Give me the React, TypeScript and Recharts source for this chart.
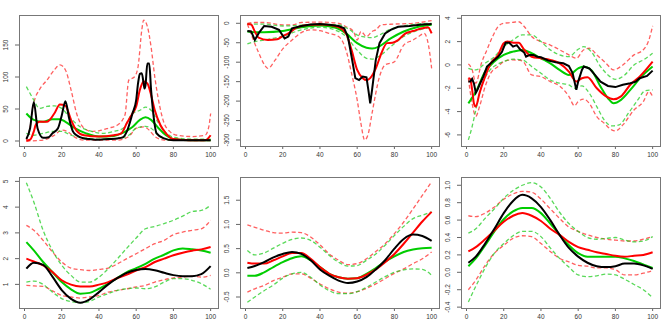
import { LineChart, Line, XAxis, YAxis } from "recharts";

type Pt = [number, number];

const X_TICKS = [0, 20, 40, 60, 80, 100];
const X_GRID = [1, 5, 10, 15, 20, 25, 30, 35, 40, 45, 50, 55, 60, 65, 70, 75, 80, 85, 90, 95, 100];

// panel 1
const P1_BLACK: Pt[] = [[1, 3], [3, 20], [5, 61], [7, 20], [10, 5], [13, 6], [15, 12], [18, 20], [20, 40], [22, 62], [24, 35], [26, 15], [28, 9], [32, 4], [35, 3], [40, 2], [45, 3], [50, 4], [53, 6], [55, 15], [58, 43], [60, 64], [61, 90], [62, 105], [63, 106], [64, 90], [64.5, 82], [65, 87], [66, 121], [67, 121], [68, 80], [69, 48], [71, 12], [75, 4], [80, 1], [90, 1], [100, 1]];
const P1_RED: Pt[] = [[1, 0.5], [3, 2], [5, 15], [6, 25], [8, 30], [12, 30], [16, 43], [19, 57], [22, 55], [25, 33], [28, 16], [32, 9], [40, 7], [48, 9], [52, 12], [55, 28], [58, 43], [60, 54], [62, 80], [64, 93], [66, 90], [68, 72], [70, 48], [73, 25], [76, 12], [80, 3], [90, 1], [97, 1], [100, 9]];
const P1_RED_UP: Pt[] = [[1, 1.5], [3, 22], [5, 59], [8, 80], [12, 95], [16, 111], [19, 119], [22, 111], [25, 80], [28, 43], [32, 20], [36, 15], [40, 16], [45, 20], [50, 25], [54, 41], [56, 95], [59, 100], [61, 116], [63, 173], [64, 189], [66, 179], [68, 147], [70, 100], [72, 64], [75, 28], [78, 15], [82, 9], [90, 7], [97, 9], [99, 22], [100, 43]];
const P1_RED_LO: Pt[] = [[1, 0], [10, 1.5], [16, 9], [20, 17], [23, 15], [27, 6], [32, 1.5], [50, 1.5], [56, 7], [60, 20], [64, 22], [67, 17], [70, 7], [75, 1.5], [100, 0.5]];
const P1_GREEN: Pt[] = [[1, 43], [5, 33], [10, 30], [15, 34], [19, 34], [22, 30], [27, 20], [33, 12], [40, 7], [48, 8], [53, 13], [58, 22], [62, 33], [65, 37], [68, 33], [72, 20], [76, 9], [80, 3], [90, 1], [100, 1]];
const P1_GREEN_UP: Pt[] = [[1, 85], [5, 64], [8, 51], [12, 54], [16, 55], [20, 51], [24, 38], [30, 22], [36, 15], [42, 12], [48, 15], [53, 20], [58, 43], [62, 48], [65, 53], [68, 48], [72, 28], [76, 13], [80, 6], [90, 3], [100, 3]];
const P1_GREEN_LO: Pt[] = [[1, 12], [5, 9], [10, 12], [15, 15], [20, 15], [25, 9], [30, 6], [40, 3], [50, 4], [56, 9], [60, 20], [65, 23], [68, 20], [72, 9], [78, 1.5], [100, 1]];

// panel 2
const P2_BLACK: Pt[] = [[1, -20], [3, -21], [5, -43], [7, -26], [10, -7], [14, -9], [18, -17], [21, -39], [23, -34], [25, -13], [30, -7], [35, -3], [40, -2], [45, -4], [50, -7], [53, -13], [55, -34], [57, -86], [59, -141], [61, -146], [63, -137], [65, -139], [66, -171], [67, -206], [68, -171], [70, -94], [72, -51], [75, -26], [78, -17], [82, -9], [88, -7], [95, -3], [100, -2]];
const P2_RED: Pt[] = [[1, -2], [3, -3], [5, -21], [7, -37], [12, -43], [17, -41], [20, -33], [23, -26], [28, -10], [35, -4], [42, -3], [50, -10], [54, -26], [57, -69], [60, -120], [63, -141], [65, -146], [67, -141], [70, -116], [73, -77], [76, -51], [79, -50], [82, -43], [86, -26], [90, -20], [95, -13], [98, -10], [100, -26]];
const P2_RED_UP: Pt[] = [[1, 0], [5, 2], [10, 2], [20, -4], [25, -4], [30, 2], [40, 3], [50, 0], [54, -9], [58, -21], [60, -43], [62, -21], [65, -34], [68, -21], [70, -17], [73, -4], [80, -2], [90, 0], [100, 7]];
const P2_RED_LO: Pt[] = [[1, -2], [4, -40], [7, -75], [10, -105], [12, -116], [16, -94], [20, -66], [25, -43], [30, -24], [35, -17], [40, -19], [45, -26], [50, -34], [54, -69], [57, -129], [60, -197], [62, -257], [64, -300], [66, -283], [68, -231], [72, -137], [75, -107], [80, -99], [85, -56], [90, -43], [93, -34], [96, -26], [99, -77], [100, -116]];
const P2_GREEN: Pt[] = [[1, -21], [5, -23], [10, -23], [20, -20], [30, -10], [40, -6], [48, -11], [54, -26], [60, -51], [65, -63], [68, -65], [72, -59], [78, -39], [85, -21], [92, -10], [100, -4]];
const P2_GREEN_UP: Pt[] = [[1, -2], [10, -2], [20, -7], [30, -5], [40, -3], [50, -4], [56, -17], [60, -30], [65, -36], [68, -37], [72, -30], [78, -15], [85, -7], [92, -2], [100, 0]];
const P2_GREEN_LO: Pt[] = [[1, -53], [5, -47], [10, -43], [20, -33], [30, -17], [40, -10], [48, -17], [54, -34], [60, -69], [65, -90], [68, -92], [72, -84], [78, -60], [85, -34], [92, -19], [100, -10]];

// panel 3
const P3_BLACK: Pt[] = [[1, -1.43], [2, -1.43], [3, -1.2], [4, -1.6], [5, -2.4], [6, -2.1], [7, -1.7], [9, -1.0], [11, -0.14], [13, 0.14], [15, 0.43], [17, 0.7], [19, 1.1], [21, 1.9], [23, 1.9], [25, 1.57], [27, 1.7], [29, 1.3], [31, 1.06], [32, 0.7], [34, 0.86], [36, 0.86], [38, 0.7], [40, 0.66], [44, 0.37], [48, 0.23], [52, 0.14], [55, -0.09], [57, -0.7], [59, -2.14], [60, -1.43], [62, -0.43], [63, -0.14], [66, -0.3], [69, -0.86], [72, -1.43], [76, -1.8], [80, -1.9], [84, -1.7], [88, -1.57], [91, -1.43], [93, -1.14], [97, -0.94], [100, -0.49]];
const P3_RED: Pt[] = [[1, -1.14], [2, -1.2], [3, -2.1], [4, -3.3], [5, -3.57], [7, -2.4], [10, -1.0], [13, 0.14], [17, 0.86], [20, 1.86], [22, 2.0], [26, 1.9], [28, 1.9], [31, 1.3], [35, 0.7], [40, 0.57], [45, 0.43], [50, 0.14], [55, -0.57], [59, -1.43], [62, -1.14], [65, -1.06], [70, -2.0], [75, -2.7], [79, -2.94], [83, -2.7], [88, -1.7], [93, -1.0], [100, 0.29]];
const P3_RED_UP: Pt[] = [[1, 0.09], [3, -0.4], [5, -1.57], [8, 0.14], [11, 1.3], [14, 2.43], [17, 3.3], [20, 3.57], [24, 3.63], [28, 3.7], [31, 3.3], [35, 2.43], [40, 2.0], [45, 1.7], [50, 1.3], [55, 0.86], [59, 0.57], [63, 1.3], [66, 1.43], [70, 0.86], [75, 0.14], [79, -0.43], [84, 0], [90, 0.86], [95, 1.3], [98, 2.14], [100, 3.34]];
const P3_RED_LO: Pt[] = [[1, -1.14], [3, -3.3], [5, -4.4], [7, -3.57], [10, -1.86], [13, -0.7], [17, -0.14], [20, 0.29], [25, 0.43], [30, 0.34], [35, -0.86], [40, -1.0], [45, -1.43], [50, -1.8], [55, -2.7], [58, -3.5], [60, -3.14], [63, -2.94], [66, -3.3], [70, -4.43], [74, -5.0], [78, -5.57], [80, -5.66], [84, -5.14], [90, -3.86], [95, -3.14], [98, -2.29], [100, -2.71]];
const P3_GREEN: Pt[] = [[1, -3.29], [5, -2.3], [10, -0.57], [15, 0.29], [20, 0.86], [25, 1.14], [30, 1.29], [35, 1.0], [40, 0.57], [45, 0.14], [50, -0.43], [55, -0.86], [60, -0.29], [63, -0.14], [67, -0.43], [72, -1.86], [76, -2.86], [79, -3.29], [83, -3.0], [88, -2.14], [94, -1.0], [100, -0.14]];
const P3_GREEN_UP: Pt[] = [[1, -0.29], [5, -0.43], [10, 0.14], [15, 0.71], [20, 1.57], [25, 2.14], [30, 2.57], [35, 2.57], [40, 2.0], [45, 1.29], [50, 0.86], [55, 0.71], [60, 1.34], [63, 1.57], [67, 1.14], [72, -0.14], [76, -0.86], [80, -1.23], [85, -0.86], [90, 0], [95, 0.43], [100, 1.0]];
const P3_GREEN_LO: Pt[] = [[1, -6.43], [3, -5.3], [5, -3.86], [8, -1.86], [12, -0.57], [16, 0], [20, 0.29], [25, 0.49], [30, 0.43], [35, -0.14], [40, -0.71], [45, -1.29], [50, -1.57], [55, -1.71], [58, -2.0], [62, -1.8], [66, -2.43], [70, -3.57], [74, -4.71], [78, -5.23], [82, -5.14], [87, -4.14], [92, -3.0], [96, -2.2], [100, -2.14]];

// panel 4 (values at X_GRID)
const P4_BLACK = [1.61, 1.84, 1.76, 1.30, 0.78, 0.44, 0.29, 0.42, 0.70, 1.0, 1.25, 1.45, 1.56, 1.60, 1.55, 1.45, 1.36, 1.32, 1.32, 1.40, 1.71];
const P4_RED = [2.0, 1.89, 1.74, 1.48, 1.16, 0.99, 0.92, 0.92, 0.99, 1.09, 1.25, 1.38, 1.54, 1.67, 1.87, 2.0, 2.13, 2.23, 2.31, 2.36, 2.45];
const P4_RED_UP = [3.29, 3.1, 2.71, 2.26, 1.87, 1.63, 1.57, 1.54, 1.58, 1.63, 1.8, 2.0, 2.19, 2.39, 2.58, 2.71, 2.93, 3.03, 3.1, 3.16, 3.49];
const P4_RED_LO = [0.96, 0.94, 0.92, 0.75, 0.57, 0.51, 0.47, 0.51, 0.57, 0.70, 0.77, 0.83, 0.90, 0.96, 1.09, 1.18, 1.25, 1.28, 1.32, 1.28, 1.35];
const P4_GREEN = [2.64, 2.32, 1.87, 1.48, 1.09, 0.81, 0.64, 0.67, 0.83, 1.03, 1.25, 1.48, 1.63, 1.8, 2.0, 2.15, 2.32, 2.39, 2.36, 2.32, 2.23];
const P4_GREEN_UP = [4.95, 4.2, 3.1, 2.32, 1.74, 1.35, 1.09, 1.09, 1.28, 1.61, 2.0, 2.41, 2.8, 3.16, 3.25, 3.36, 3.49, 3.65, 3.83, 3.87, 4.07];
const P4_GREEN_LO = [1.09, 1.13, 1.0, 0.70, 0.45, 0.33, 0.29, 0.34, 0.51, 0.64, 0.77, 0.83, 0.86, 0.83, 0.90, 1.09, 1.22, 1.22, 1.16, 1.03, 0.81];

// panel 5
const P5_BLACK = [0.10, 0.14, 0.22, 0.32, 0.39, 0.43, 0.39, 0.26, 0.07, -0.06, -0.16, -0.21, -0.18, -0.09, 0.07, 0.26, 0.50, 0.70, 0.79, 0.76, 0.66];
const P5_RED = [0.21, 0.19, 0.19, 0.26, 0.34, 0.41, 0.41, 0.29, 0.12, -0.02, -0.09, -0.12, -0.11, -0.04, 0.07, 0.22, 0.39, 0.60, 0.83, 1.06, 1.26];
const P5_RED_UP = [0.99, 0.94, 0.88, 0.83, 0.82, 0.84, 0.83, 0.74, 0.58, 0.39, 0.26, 0.17, 0.19, 0.29, 0.44, 0.60, 0.81, 1.05, 1.32, 1.60, 1.88];
const P5_RED_LO = [-0.40, -0.33, -0.26, -0.16, -0.09, -0.02, -0.02, -0.11, -0.23, -0.33, -0.40, -0.42, -0.39, -0.32, -0.23, -0.12, -0.01, 0.08, 0.19, 0.29, 0.43];
const P5_GREEN = [-0.06, -0.06, 0.01, 0.12, 0.22, 0.30, 0.34, 0.26, 0.12, -0.02, -0.09, -0.12, -0.11, -0.02, 0.10, 0.23, 0.34, 0.43, 0.48, 0.51, 0.52];
const P5_GREEN_UP = [0.46, 0.37, 0.41, 0.51, 0.61, 0.69, 0.72, 0.67, 0.53, 0.36, 0.22, 0.14, 0.15, 0.26, 0.39, 0.57, 0.77, 0.96, 1.12, 1.19, 1.26];
const P5_GREEN_LO = [-0.61, -0.50, -0.37, -0.25, -0.11, -0.02, 0.01, -0.09, -0.25, -0.37, -0.43, -0.43, -0.39, -0.30, -0.19, -0.08, 0.01, 0.06, 0.08, 0.07, -0.05];

// panel 6
const P6_BLACK = [0.11, 0.18, 0.33, 0.50, 0.68, 0.82, 0.89, 0.85, 0.75, 0.60, 0.43, 0.28, 0.18, 0.11, 0.07, 0.06, 0.07, 0.10, 0.10, 0.08, 0.04];
const P6_RED = [0.24, 0.29, 0.38, 0.48, 0.58, 0.65, 0.68, 0.65, 0.59, 0.50, 0.43, 0.35, 0.29, 0.26, 0.23, 0.21, 0.19, 0.18, 0.19, 0.20, 0.23];
const P6_RED_UP = [0.65, 0.64, 0.68, 0.75, 0.84, 0.90, 0.93, 0.92, 0.84, 0.73, 0.62, 0.52, 0.47, 0.43, 0.40, 0.38, 0.37, 0.36, 0.36, 0.38, 0.41];
const P6_RED_LO = [-0.20, -0.09, 0.08, 0.22, 0.31, 0.39, 0.42, 0.41, 0.33, 0.24, 0.16, 0.12, 0.08, 0.07, 0.05, 0.05, 0.03, -0.03, -0.03, -0.01, 0.02];
const P6_GREEN = [0.07, 0.16, 0.31, 0.47, 0.61, 0.70, 0.74, 0.74, 0.68, 0.56, 0.43, 0.31, 0.22, 0.18, 0.18, 0.18, 0.18, 0.16, 0.13, 0.09, 0.05];
const P6_GREEN_UP = [0.45, 0.50, 0.62, 0.73, 0.85, 0.94, 1.00, 1.03, 0.98, 0.85, 0.69, 0.56, 0.47, 0.40, 0.38, 0.39, 0.40, 0.37, 0.35, 0.36, 0.41];
const P6_GREEN_LO = [-0.34, -0.16, 0.05, 0.22, 0.33, 0.42, 0.47, 0.47, 0.41, 0.28, 0.16, 0.06, -0.03, -0.05, -0.04, -0.02, -0.03, -0.08, -0.14, -0.20, -0.29];

const FONT = "'Liberation Sans', Arial, Helvetica, sans-serif";
const BOX_LEFT = 19;
const BOX_RIGHT = 218;
const BOX_TOP = 15;
const PANEL_H = 162;
const X_DOMAIN: [number, number] = [-2.96, 103.96];

type Kind = "black" | "red" | "green" | "redBand" | "greenBand";
type Row = { x: number; y: number };
type Series = { kind: Kind; rows: Row[] };

const STYLE: Record<Kind, { stroke: string; width: number; dash?: string; opacity: number }> = {
    redBand: { stroke: "#FF2a2a", width: 1.3, dash: "4 2.5", opacity: 0.75 },
    greenBand: { stroke: "#22CC22", width: 1.3, dash: "4 2.5", opacity: 0.75 },
    green: { stroke: "#00CD00", width: 2, opacity: 1 },
    red: { stroke: "#FF0000", width: 2, opacity: 1 },
    black: { stroke: "#000000", width: 2, opacity: 1 },
};

const pts = (p: Pt[]): Row[] => p.map(([x, y]) => ({ x, y }));
const grid = (ys: number[]): Row[] => ys.map((y, i) => ({ x: X_GRID[i], y }));

const XTick = (props: any) => {
    const { x, y, payload } = props;
    return (
        <text x={x} y={y + 6} textAnchor="middle" fontSize={6.5} fill="#333" fontFamily={FONT}>
            {payload.value}
        </text>
    );
};

const makeYTick = (fmt: (v: number) => string) => (props: any) => {
    const { x, y, payload } = props;
    const bx = x - 4.5;
    return (
        <text x={bx} y={y} textAnchor="middle" fontSize={6.5} fill="#333" fontFamily={FONT} transform={`rotate(-90 ${bx} ${y})`}>
            {fmt(payload.value)}
        </text>
    );
};

interface PanelProps {
    left: number;
    top: number;
    width: number;
    yDomain: [number, number];
    yTicks: number[];
    fmt: (v: number) => string;
    series: Series[];
    jagged?: boolean;
}

function Panel({ left, top, width, yDomain, yTicks, fmt, series, jagged }: PanelProps) {
    return (
        <div style={{ position: "absolute", left, top, width, height: PANEL_H }}>
            <LineChart width={width} height={PANEL_H} margin={{ top: BOX_TOP, right: width - BOX_RIGHT, bottom: 0, left: 0 }}>
                <XAxis
                    dataKey="x"
                    type="number"
                    domain={X_DOMAIN}
                    ticks={X_TICKS}
                    allowDataOverflow
                    height={16}
                    axisLine={false}
                    tickSize={3}
                    tickLine={{ stroke: "#666" }}
                    tick={<XTick />}
                    interval={0}
                />
                <YAxis
                    type="number"
                    domain={yDomain}
                    ticks={yTicks}
                    allowDataOverflow
                    width={BOX_LEFT}
                    axisLine={false}
                    tickSize={4}
                    tickLine={{ stroke: "#666" }}
                    tick={makeYTick(fmt)}
                    interval={0}
                />
                {series.map((s, i) => {
                    const st = STYLE[s.kind];
                    return (
                        <Line
                            key={`${s.kind}-${i}`}
                            data={s.rows}
                            dataKey="y"
                            type={jagged && s.kind === "black" ? "linear" : "monotone"}
                            stroke={st.stroke}
                            strokeWidth={st.width}
                            strokeDasharray={st.dash}
                            strokeOpacity={st.opacity}
                            dot={false}
                            activeDot={false}
                            isAnimationActive={false}
                        />
                    );
                })}
            </LineChart>
            <div
                style={{
                    position: "absolute",
                    left: BOX_LEFT,
                    top: BOX_TOP,
                    width: BOX_RIGHT - BOX_LEFT + 1,
                    height: 132,
                    border: "1px solid #777",
                    boxSizing: "border-box",
                    pointerEvents: "none",
                }}
            />
        </div>
    );
}

const intFmt = (v: number) => String(v);
const dec1 = (v: number) => v.toFixed(1);

const band = (rUp: Row[], rLo: Row[], gUp: Row[], gLo: Row[], g: Row[], r: Row[], b: Row[]): Series[] => [
    { kind: "redBand", rows: rUp },
    { kind: "redBand", rows: rLo },
    { kind: "greenBand", rows: gUp },
    { kind: "greenBand", rows: gLo },
    { kind: "green", rows: g },
    { kind: "red", rows: r },
    { kind: "black", rows: b },
];

export default function App() {
    return (
        <div style={{ position: "absolute", left: 0, top: 0, width: 664, height: 324, background: "#fff" }}>
            <Panel
                left={0} top={0} width={221}
                yDomain={[-7.8, 196.9]} yTicks={[0, 50, 100, 150]} fmt={intFmt}
                series={band(pts(P1_RED_UP), pts(P1_RED_LO), pts(P1_GREEN_UP), pts(P1_GREEN_LO), pts(P1_GREEN), pts(P1_RED), pts(P1_BLACK))}
            />
            <Panel
                left={221} top={0} width={221}
                yDomain={[-315.4, 21.3]} yTicks={[-300, -250, -200, -150, -100, -50, 0]} fmt={intFmt}
                series={band(pts(P2_RED_UP), pts(P2_RED_LO), pts(P2_GREEN_UP), pts(P2_GREEN_LO), pts(P2_GREEN), pts(P2_RED), pts(P2_BLACK))}
                jagged
            />
            <Panel
                left={442} top={0} width={222}
                yDomain={[-6.95, 4.28]} yTicks={[-6, -4, -2, 0, 2, 4]} fmt={intFmt}
                series={band(pts(P3_RED_UP), pts(P3_RED_LO), pts(P3_GREEN_UP), pts(P3_GREEN_LO), pts(P3_GREEN), pts(P3_RED), pts(P3_BLACK))}
                jagged
            />
            <Panel
                left={0} top={162} width={221}
                yDomain={[0.083, 5.17]} yTicks={[1, 2, 3, 4, 5]} fmt={intFmt}
                series={band(grid(P4_RED_UP), grid(P4_RED_LO), grid(P4_GREEN_UP), grid(P4_GREEN_LO), grid(P4_GREEN), grid(P4_RED), grid(P4_BLACK))}
            />
            <Panel
                left={221} top={162} width={221}
                yDomain={[-0.727, 1.98]} yTicks={[-0.5, 0, 0.5, 1, 1.5]} fmt={dec1}
                series={band(grid(P5_RED_UP), grid(P5_RED_LO), grid(P5_GREEN_UP), grid(P5_GREEN_LO), grid(P5_GREEN), grid(P5_RED), grid(P5_BLACK))}
            />
            <Panel
                left={442} top={162} width={222}
                yDomain={[-0.41, 1.095]} yTicks={[-0.4, -0.2, 0, 0.2, 0.4, 0.6, 0.8, 1]} fmt={dec1}
                series={band(grid(P6_RED_UP), grid(P6_RED_LO), grid(P6_GREEN_UP), grid(P6_GREEN_LO), grid(P6_GREEN), grid(P6_RED), grid(P6_BLACK))}
            />
        </div>
    );
}
